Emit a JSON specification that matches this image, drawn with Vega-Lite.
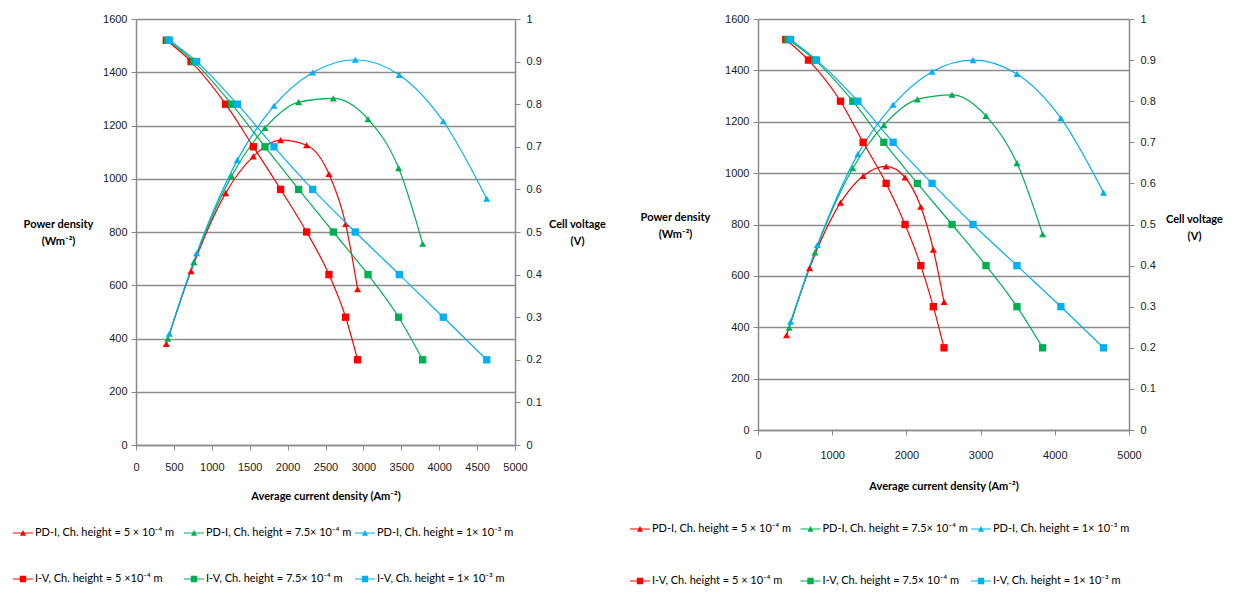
{
  "$schema": "https://vega.github.io/schema/vega-lite/v6.json",
  "background": "white",
  "padding": {"left": 13, "top": 13, "right": 0, "bottom": 0},
  "spacing": 24,
  "config": {
    "view": {"stroke": null},
    "axis": {
      "labelFont": "Liberation Sans", "labelFontSize": 11, "labelColor": "#1a1a1a",
      "titleFont": "Lato", "titleFontWeight": "bold", "titleFontSize": 11, "titleColor": "#000",
      "domainColor": "#8a8a8a", "domainWidth": 1.5, "tickColor": "#8a8a8a", "tickSize": 5, "tickWidth": 1,
      "gridColor": "#8c8c8c", "gridWidth": 1.5
    }
  },
  "resolve": {"scale": {"color": "independent", "shape": "independent", "fill": "independent", "stroke": "independent"}},
  "datasets": {
    "leg": [
      {"p":"L","col":"c1","row":"PD","label":"PD-I, Ch. height = 5 × 10⁻⁴ m"},
      {"p":"L","col":"c2","row":"PD","label":"PD-I, Ch. height = 7.5× 10⁻⁴ m"},
      {"p":"L","col":"c3","row":"PD","label":"PD-I, Ch. height = 1× 10⁻³ m"},
      {"p":"L","col":"c1","row":"IV","label":"I-V, Ch. height = 5 ×10⁻⁴ m"},
      {"p":"L","col":"c2","row":"IV","label":"I-V, Ch. height = 7.5× 10⁻⁴ m"},
      {"p":"L","col":"c3","row":"IV","label":"I-V, Ch. height = 1× 10⁻³ m"},
      {"p":"R","col":"c1","row":"PD","label":"PD-I, Ch. height = 5 × 10⁻⁴ m"},
      {"p":"R","col":"c2","row":"PD","label":"PD-I, Ch. height = 7.5× 10⁻⁴ m"},
      {"p":"R","col":"c3","row":"PD","label":"PD-I, Ch. height = 1× 10⁻³ m"},
      {"p":"R","col":"c1","row":"IV","label":"I-V, Ch. height = 5 × 10⁻⁴ m"},
      {"p":"R","col":"c2","row":"IV","label":"I-V, Ch. height = 7.5× 10⁻⁴ m"},
      {"p":"R","col":"c3","row":"IV","label":"I-V, Ch. height = 1× 10⁻³ m"}
    ],
    "main": [
    {"p":"L","s":"a","t":"PD","I":400,"y":380},
    {"p":"L","s":"a","t":"PD","I":726,"y":653},
    {"p":"L","s":"a","t":"PD","I":1183,"y":946},
    {"p":"L","s":"a","t":"PD","I":1548,"y":1084},
    {"p":"L","s":"a","t":"PD","I":1908,"y":1145},
    {"p":"L","s":"a","t":"PD","I":2251,"y":1126},
    {"p":"L","s":"a","t":"PD","I":2546,"y":1018},
    {"p":"L","s":"a","t":"PD","I":2766,"y":830},
    {"p":"L","s":"a","t":"PD","I":2924,"y":585},
    {"p":"L","s":"b","t":"PD","I":420,"y":399},
    {"p":"L","s":"b","t":"PD","I":763,"y":687},
    {"p":"L","s":"b","t":"PD","I":1262,"y":1010},
    {"p":"L","s":"b","t":"PD","I":1702,"y":1191},
    {"p":"L","s":"b","t":"PD","I":2146,"y":1288},
    {"p":"L","s":"b","t":"PD","I":2603,"y":1302},
    {"p":"L","s":"b","t":"PD","I":3061,"y":1224},
    {"p":"L","s":"b","t":"PD","I":3465,"y":1040},
    {"p":"L","s":"b","t":"PD","I":3782,"y":756},
    {"p":"L","s":"c","t":"PD","I":440,"y":418},
    {"p":"L","s":"c","t":"PD","I":800,"y":720},
    {"p":"L","s":"c","t":"PD","I":1337,"y":1070},
    {"p":"L","s":"c","t":"PD","I":1820,"y":1274},
    {"p":"L","s":"c","t":"PD","I":2331,"y":1399},
    {"p":"L","s":"c","t":"PD","I":2893,"y":1447},
    {"p":"L","s":"c","t":"PD","I":3474,"y":1390},
    {"p":"L","s":"c","t":"PD","I":4054,"y":1216},
    {"p":"L","s":"c","t":"PD","I":4627,"y":925},
    {"p":"L","s":"a","t":"IV","I":400,"y":0.95},
    {"p":"L","s":"a","t":"IV","I":726,"y":0.9},
    {"p":"L","s":"a","t":"IV","I":1183,"y":0.8},
    {"p":"L","s":"a","t":"IV","I":1548,"y":0.7},
    {"p":"L","s":"a","t":"IV","I":1908,"y":0.6},
    {"p":"L","s":"a","t":"IV","I":2251,"y":0.5},
    {"p":"L","s":"a","t":"IV","I":2546,"y":0.4},
    {"p":"L","s":"a","t":"IV","I":2766,"y":0.3},
    {"p":"L","s":"a","t":"IV","I":2924,"y":0.2},
    {"p":"L","s":"b","t":"IV","I":420,"y":0.95},
    {"p":"L","s":"b","t":"IV","I":763,"y":0.9},
    {"p":"L","s":"b","t":"IV","I":1262,"y":0.8},
    {"p":"L","s":"b","t":"IV","I":1702,"y":0.7},
    {"p":"L","s":"b","t":"IV","I":2146,"y":0.6},
    {"p":"L","s":"b","t":"IV","I":2603,"y":0.5},
    {"p":"L","s":"b","t":"IV","I":3061,"y":0.4},
    {"p":"L","s":"b","t":"IV","I":3465,"y":0.3},
    {"p":"L","s":"b","t":"IV","I":3782,"y":0.2},
    {"p":"L","s":"c","t":"IV","I":440,"y":0.95},
    {"p":"L","s":"c","t":"IV","I":800,"y":0.9},
    {"p":"L","s":"c","t":"IV","I":1337,"y":0.8},
    {"p":"L","s":"c","t":"IV","I":1820,"y":0.7},
    {"p":"L","s":"c","t":"IV","I":2331,"y":0.6},
    {"p":"L","s":"c","t":"IV","I":2893,"y":0.5},
    {"p":"L","s":"c","t":"IV","I":3474,"y":0.4},
    {"p":"L","s":"c","t":"IV","I":4054,"y":0.3},
    {"p":"L","s":"c","t":"IV","I":4627,"y":0.2},
    {"p":"R","s":"a","t":"PD","I":385,"y":369},
    {"p":"R","s":"a","t":"PD","I":695,"y":630},
    {"p":"R","s":"a","t":"PD","I":1112,"y":885},
    {"p":"R","s":"a","t":"PD","I":1417,"y":989},
    {"p":"R","s":"a","t":"PD","I":1727,"y":1026},
    {"p":"R","s":"a","t":"PD","I":1982,"y":983},
    {"p":"R","s":"a","t":"PD","I":2194,"y":869},
    {"p":"R","s":"a","t":"PD","I":2363,"y":702},
    {"p":"R","s":"a","t":"PD","I":2507,"y":499},
    {"p":"R","s":"b","t":"PD","I":420,"y":398},
    {"p":"R","s":"b","t":"PD","I":767,"y":691},
    {"p":"R","s":"b","t":"PD","I":1278,"y":1019},
    {"p":"R","s":"b","t":"PD","I":1696,"y":1187},
    {"p":"R","s":"b","t":"PD","I":2148,"y":1287},
    {"p":"R","s":"b","t":"PD","I":2615,"y":1305},
    {"p":"R","s":"b","t":"PD","I":3073,"y":1223},
    {"p":"R","s":"b","t":"PD","I":3490,"y":1039},
    {"p":"R","s":"b","t":"PD","I":3836,"y":762},
    {"p":"R","s":"c","t":"PD","I":440,"y":422},
    {"p":"R","s":"c","t":"PD","I":800,"y":720},
    {"p":"R","s":"c","t":"PD","I":1346,"y":1074},
    {"p":"R","s":"c","t":"PD","I":1821,"y":1266},
    {"p":"R","s":"c","t":"PD","I":2346,"y":1395},
    {"p":"R","s":"c","t":"PD","I":2898,"y":1440},
    {"p":"R","s":"c","t":"PD","I":3490,"y":1386},
    {"p":"R","s":"c","t":"PD","I":4082,"y":1214},
    {"p":"R","s":"c","t":"PD","I":4657,"y":924},
    {"p":"R","s":"a","t":"IV","I":375,"y":0.95},
    {"p":"R","s":"a","t":"IV","I":680,"y":0.9},
    {"p":"R","s":"a","t":"IV","I":1112,"y":0.8},
    {"p":"R","s":"a","t":"IV","I":1417,"y":0.7},
    {"p":"R","s":"a","t":"IV","I":1727,"y":0.6},
    {"p":"R","s":"a","t":"IV","I":1982,"y":0.5},
    {"p":"R","s":"a","t":"IV","I":2194,"y":0.4},
    {"p":"R","s":"a","t":"IV","I":2363,"y":0.3},
    {"p":"R","s":"a","t":"IV","I":2507,"y":0.2},
    {"p":"R","s":"b","t":"IV","I":405,"y":0.95},
    {"p":"R","s":"b","t":"IV","I":767,"y":0.9},
    {"p":"R","s":"b","t":"IV","I":1278,"y":0.8},
    {"p":"R","s":"b","t":"IV","I":1696,"y":0.7},
    {"p":"R","s":"b","t":"IV","I":2148,"y":0.6},
    {"p":"R","s":"b","t":"IV","I":2615,"y":0.5},
    {"p":"R","s":"b","t":"IV","I":3073,"y":0.4},
    {"p":"R","s":"b","t":"IV","I":3490,"y":0.3},
    {"p":"R","s":"b","t":"IV","I":3836,"y":0.2},
    {"p":"R","s":"c","t":"IV","I":439,"y":0.95},
    {"p":"R","s":"c","t":"IV","I":789,"y":0.9},
    {"p":"R","s":"c","t":"IV","I":1346,"y":0.8},
    {"p":"R","s":"c","t":"IV","I":1821,"y":0.7},
    {"p":"R","s":"c","t":"IV","I":2346,"y":0.6},
    {"p":"R","s":"c","t":"IV","I":2898,"y":0.5},
    {"p":"R","s":"c","t":"IV","I":3490,"y":0.4},
    {"p":"R","s":"c","t":"IV","I":4082,"y":0.3},
    {"p":"R","s":"c","t":"IV","I":4657,"y":0.2}
    ]
  },
  "hconcat": [
    {
      "bounds": "flush", "spacing": 0,
      "vconcat": [
        {
          "data": {"name": "main"},
          "width": 379, "height": 426,
          "transform": [{"filter": "datum.p === 'L'"}],
          "encoding": {
            "x": {"field": "I", "type": "quantitative", "scale": {"domain": [0, 5000], "nice": false},
              "axis": {"values": [0,500,1000,1500,2000,2500,3000,3500,4000,4500,5000], "format": "d", "grid": false, "labelPadding": 11, "labelFlush": false,
                "title": "Average current density (Am⁻²)", "titlePadding": 18}},
            "stroke": {"field": "s", "type": "nominal", "legend": null, "scale": {"domain": ["a","b","c"], "range": ["#ff0000","#00b050","#00b0f0"]}},
            "fill": {"field": "s", "type": "nominal", "legend": null, "scale": {"domain": ["a","b","c"], "range": ["#ff0000","#00b050","#00b0f0"]}}
          },
          "resolve": {"scale": {"y": "independent"}},
          "layer": [
            {
              "transform": [{"filter": "datum.t === 'PD'"}],
              "encoding": {
                "y": {"field": "y", "type": "quantitative", "scale": {"domain": [0, 1600], "nice": false},
                  "axis": {"values": [0,200,400,600,800,1000,1200,1400,1600], "format": "d", "grid": true, "labelPadding": 4,
                    "title": ["Power density", "(Wm⁻²)"], "titleAngle": 0, "titleAlign": "center", "titleBaseline": "middle",
                    "titleX": -78, "titleY": 205, "titleLineHeight": 17}}
              },
              "layer": [
                {"mark": {"type": "line", "interpolate": "monotone", "strokeWidth": 1.2}, "encoding": {"fill": {"value": null}}},
                {"mark": {"type": "point", "shape": "triangle-up", "filled": true, "size": 50, "opacity": 1, "strokeWidth": 0}}
              ]
            },
            {
              "transform": [{"filter": "datum.t === 'IV'"}],
              "encoding": {
                "y": {"field": "y", "type": "quantitative", "scale": {"domain": [0, 1], "nice": false},
                  "axis": {"orient": "right", "values": [0,0.1,0.2,0.3,0.4,0.5,0.6,0.7,0.8,0.9,1], "format": "~g", "grid": false, "labelPadding": 6,
                    "title": ["Cell voltage", "(V)"], "titleAngle": 0, "titleAlign": "center", "titleBaseline": "middle",
                    "titleX": 62, "titleY": 205, "titleLineHeight": 17}}
              },
              "layer": [
                {"mark": {"type": "line", "interpolate": "monotone", "strokeWidth": 1.2}, "encoding": {"fill": {"value": null}}},
                {"mark": {"type": "point", "shape": "square", "filled": true, "size": 54, "opacity": 1, "strokeWidth": 0}}
              ]
            }
          ]
        },
        {
          "data": {"name": "leg"},
          "transform": [{"filter": "datum.p === 'L'"}],
          "width": 300, "height": 20,
          "encoding": {
            "x": {"field": "col", "type": "nominal", "axis": null, "scale": {"type": "point", "domain": ["c1","c2","c3"], "range": [-113, 229], "padding": 0}},
            "y": {"field": "row", "type": "nominal", "axis": null, "scale": {"type": "point", "domain": ["PD","IV"], "range": [88, 134], "padding": 0}}
          },
          "layer": [
            {"mark": {"type": "point", "filled": true, "size": 400, "opacity": 1, "strokeWidth": 0},
             "encoding": {
               "color": {"field": "col", "type": "nominal", "legend": null, "scale": {"domain": ["c1","c2","c3"], "range": ["#ff0000","#00b050","#00b0f0"]}},
               "shape": {"field": "row", "type": "nominal", "legend": null, "scale": {"domain": ["PD","IV"], "range": ["M-1,-0.06H1V0.06H-1Z M-0.3,0.27L0,-0.3L0.3,0.27Z", "M-1,-0.06H1V0.06H-1Z M-0.32,-0.32H0.32V0.32H-0.32Z"]}}
             }},
            {"mark": {"type": "text", "align": "left", "baseline": "middle", "dx": 12, "font": "Lato", "fontSize": 11, "color": "#000"},
             "encoding": {"text": {"field": "label", "type": "nominal"}}}
          ]
        }
      ]
    },
    {
      "bounds": "flush", "spacing": 0,
      "vconcat": [
        {
          "data": {"name": "main"},
          "width": 371, "height": 411,
          "transform": [{"filter": "datum.p === 'R'"}],
          "encoding": {
            "x": {"field": "I", "type": "quantitative", "scale": {"domain": [0, 5000], "nice": false},
              "axis": {"values": [0,1000,2000,3000,4000,5000], "format": "d", "grid": false, "labelPadding": 14, "labelFlush": false,
                "title": "Average current density (Am⁻²)", "titlePadding": 20}},
            "stroke": {"field": "s", "type": "nominal", "legend": null, "scale": {"domain": ["a","b","c"], "range": ["#ff0000","#00b050","#00b0f0"]}},
            "fill": {"field": "s", "type": "nominal", "legend": null, "scale": {"domain": ["a","b","c"], "range": ["#ff0000","#00b050","#00b0f0"]}}
          },
          "resolve": {"scale": {"y": "independent"}},
          "layer": [
            {
              "transform": [{"filter": "datum.t === 'PD'"}],
              "encoding": {
                "y": {"field": "y", "type": "quantitative", "scale": {"domain": [0, 1600], "nice": false},
                  "axis": {"values": [0,200,400,600,800,1000,1200,1400,1600], "format": "d", "grid": true, "labelPadding": 4,
                    "title": ["Power density", "(Wm⁻²)"], "titleAngle": 0, "titleAlign": "center", "titleBaseline": "middle",
                    "titleX": -83, "titleY": 198, "titleLineHeight": 17}}
              },
              "layer": [
                {"mark": {"type": "line", "interpolate": "monotone", "strokeWidth": 1.2}, "encoding": {"fill": {"value": null}}},
                {"mark": {"type": "point", "shape": "triangle-up", "filled": true, "size": 50, "opacity": 1, "strokeWidth": 0}}
              ]
            },
            {
              "transform": [{"filter": "datum.t === 'IV'"}],
              "encoding": {
                "y": {"field": "y", "type": "quantitative", "scale": {"domain": [0, 1], "nice": false},
                  "axis": {"orient": "right", "values": [0,0.1,0.2,0.3,0.4,0.5,0.6,0.7,0.8,0.9,1], "format": "~g", "grid": false, "labelPadding": 6,
                    "title": ["Cell voltage", "(V)"], "titleAngle": 0, "titleAlign": "center", "titleBaseline": "middle",
                    "titleX": 65, "titleY": 200, "titleLineHeight": 17}}
              },
              "layer": [
                {"mark": {"type": "line", "interpolate": "monotone", "strokeWidth": 1.2}, "encoding": {"fill": {"value": null}}},
                {"mark": {"type": "point", "shape": "square", "filled": true, "size": 54, "opacity": 1, "strokeWidth": 0}}
              ]
            }
          ]
        },
        {
          "data": {"name": "leg"},
          "transform": [{"filter": "datum.p === 'R'"}],
          "width": 300, "height": 20,
          "encoding": {
            "x": {"field": "col", "type": "nominal", "axis": null, "scale": {"type": "point", "domain": ["c1","c2","c3"], "range": [-118, 223], "padding": 0}},
            "y": {"field": "row", "type": "nominal", "axis": null, "scale": {"type": "point", "domain": ["PD","IV"], "range": [99, 151], "padding": 0}}
          },
          "layer": [
            {"mark": {"type": "point", "filled": true, "size": 400, "opacity": 1, "strokeWidth": 0},
             "encoding": {
               "color": {"field": "col", "type": "nominal", "legend": null, "scale": {"domain": ["c1","c2","c3"], "range": ["#ff0000","#00b050","#00b0f0"]}},
               "shape": {"field": "row", "type": "nominal", "legend": null, "scale": {"domain": ["PD","IV"], "range": ["M-1,-0.06H1V0.06H-1Z M-0.3,0.27L0,-0.3L0.3,0.27Z", "M-1,-0.06H1V0.06H-1Z M-0.32,-0.32H0.32V0.32H-0.32Z"]}}
             }},
            {"mark": {"type": "text", "align": "left", "baseline": "middle", "dx": 12, "font": "Lato", "fontSize": 11, "color": "#000"},
             "encoding": {"text": {"field": "label", "type": "nominal"}}}
          ]
        }
      ]
    }
  ]
}
